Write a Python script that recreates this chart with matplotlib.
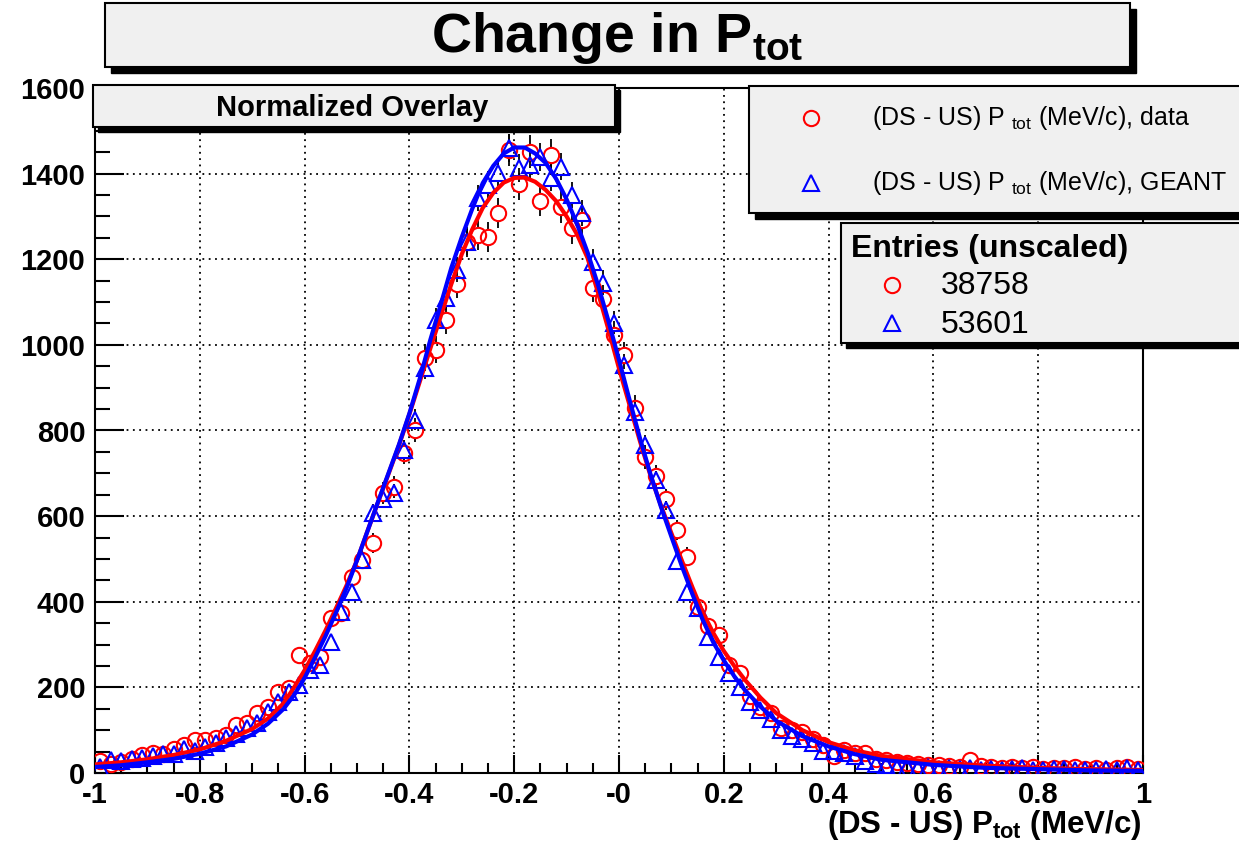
import numpy as np
import matplotlib
matplotlib.use('Agg')
import matplotlib.pyplot as plt
from matplotlib.patches import Rectangle
from matplotlib.lines import Line2D
from matplotlib.ticker import MultipleLocator

plt.rcParams['font.family'] = 'Liberation Sans'
plt.rcParams['mathtext.fontset'] = 'custom'
plt.rcParams['mathtext.rm'] = 'Liberation Sans'
plt.rcParams['mathtext.bf'] = 'Liberation Sans:bold'
plt.rcParams['mathtext.it'] = 'Liberation Sans:italic'

# histogram contents, 100 bins from -1 to 1
data_counts = [28, 22, 26, 33, 42, 47, 45, 56, 65, 77,
               77, 82, 89, 112, 117, 140, 154, 189, 199, 276,
               258, 272, 362, 374, 458, 498, 538, 655, 668, 748,
               802, 970, 989, 1059, 1143, 1240, 1257, 1252, 1308, 1455,
               1375, 1451, 1337, 1444, 1322, 1272, 1292, 1133, 1106, 1023,
               976, 853, 738, 693, 639, 568, 505, 388, 343, 322,
               252, 234, 180, 154, 140, 105, 100, 96, 79, 65,
               40, 54, 47, 46, 32, 30, 26, 24, 22, 19,
               18, 17, 15, 30, 16, 14, 12, 15, 12, 14,
               9, 12, 11, 13, 10, 12, 8, 11, 13, 10]
geant_counts = [14, 30, 28, 32, 36, 40, 44, 45, 55, 52,
                60, 70, 82, 92, 105, 117, 142, 166, 190, 205,
                240, 252, 306, 375, 423, 498, 607, 640, 654, 754,
                825, 946, 1058, 1110, 1175, 1240, 1343, 1374, 1402, 1460,
                1413, 1420, 1439, 1390, 1416, 1350, 1308, 1194, 1145, 1052,
                953, 843, 766, 684, 614, 495, 423, 385, 318, 271,
                234, 200, 166, 148, 126, 100, 86, 80, 70, 52,
                52, 46, 40, 28, 20, 18, 12, 14, 12, 13,
                10, 12, 9, 11, 8, 10, 7, 9, 11, 8,
                6, 9, 10, 7, 8, 6, 9, 7, 11, 8]
n_data = 38758
n_geant = 53601

# fitted curves
fit_x = [-1.0, -0.95, -0.9, -0.85, -0.8, -0.75, -0.7, -0.67, -0.64, -0.62,
         -0.60, -0.58, -0.56, -0.54, -0.52, -0.50, -0.48, -0.46, -0.44, -0.42,
         -0.40, -0.38, -0.36, -0.34, -0.32, -0.30, -0.28, -0.26, -0.24, -0.22,
         -0.20, -0.18, -0.16, -0.14, -0.12, -0.10, -0.08, -0.06, -0.04, -0.02,
         0.0, 0.02, 0.04, 0.06, 0.08, 0.10, 0.12, 0.14, 0.16, 0.18,
         0.20, 0.22, 0.24, 0.27, 0.30, 0.35, 0.40, 0.45, 0.5, 0.6,
         0.7, 0.8, 0.9, 1.0]
fit_data = [20, 25, 32, 42, 55, 75, 103, 127, 163, 200,
            240, 285, 333, 385, 438, 497, 565, 632, 698, 765,
            838, 915, 992, 1068, 1142, 1212, 1270, 1320, 1355, 1379,
            1390, 1391, 1381, 1362, 1336, 1300, 1258, 1203, 1122, 1035,
            945, 860, 775, 695, 625, 560, 496, 434, 375, 327,
            285, 250, 218, 176, 140, 100, 72, 53, 40, 25,
            17, 12, 9, 7]
fit_geant = [14, 18, 25, 33, 45, 62, 90, 115, 150, 182,
             222, 270, 320, 375, 432, 497, 565, 633, 700, 767,
             840, 922, 1012, 1095, 1180, 1252, 1318, 1378, 1418, 1447,
             1461, 1461, 1447, 1425, 1388, 1340, 1282, 1216, 1140, 1055,
             965, 872, 782, 698, 622, 552, 483, 418, 357, 305,
             263, 226, 194, 155, 122, 86, 62, 44, 31, 19,
             12, 9, 6, 5]

xtick_vals = [-1, -0.8, -0.6, -0.4, -0.2, 0, 0.2, 0.4, 0.6, 0.8, 1]
xtick_labels = ['-1', '-0.8', '-0.6', '-0.4', '-0.2', '-0', '0.2', '0.4', '0.6', '0.8', '1']

W, H = 1239, 846
fig = plt.figure(figsize=(W / 100, H / 100), dpi=100)
ax = fig.add_axes([95 / W, 1 - 773 / H, (1143 - 95) / W, (773 - 88) / H])

x = np.linspace(-0.99, 0.99, 100)
yd = np.array(data_counts, float)
yg = np.array(geant_counts, float)
ed = np.sqrt(yd)
eg = np.sqrt(yg * n_data / n_geant)

# error bars with a gap where the marker sits
r = 8 * 1600 / 685.
def errbars(y, e):
    m = e > r
    ax.vlines(x[m], (y + r)[m], (y + e)[m], color='k', lw=1.3, zorder=2)
    ax.vlines(x[m], (y - e)[m], (y - r)[m], color='k', lw=1.3, zorder=2)

errbars(yd, ed)
errbars(yg, eg)
ax.plot(x, yd, 'o', mfc='none', mec='red', ms=11, mew=1.5, zorder=3)
ax.plot(x, yg, '^', mfc='none', mec='blue', ms=12, mew=1.5, zorder=3)
ax.plot(fit_x, fit_data, color='red', lw=3, zorder=4)
ax.plot(fit_x, fit_geant, color='blue', lw=3, zorder=5)

ax.set_xlim(-1, 1)
ax.set_ylim(0, 1600)
ax.set_xticks(xtick_vals)
ax.set_xticklabels(xtick_labels, fontsize=21, fontweight='bold')
ax.set_yticks(range(0, 1601, 200))
ax.set_yticklabels([str(v) for v in range(0, 1601, 200)], fontsize=21, fontweight='bold')
ax.xaxis.set_minor_locator(MultipleLocator(0.05))
ax.yaxis.set_minor_locator(MultipleLocator(50))
ax.tick_params(axis='x', which='major', direction='in', length=13, width=1.5, pad=6)
ax.tick_params(axis='x', which='minor', direction='in', length=7, width=1.5)
ax.tick_params(axis='y', which='major', direction='in', length=21, width=1.5, pad=7)
ax.tick_params(axis='y', which='minor', direction='in', length=11, width=1.5)
ax.grid(True, which='major', color='k', lw=1.3, linestyle=(0, (1, 2.5)))
for s in ax.spines.values():
    s.set_linewidth(1.5)

def fig_box(x0, y0, x1, y1, s):
    fig.add_artist(Rectangle(((x0 + s) / W, 1 - (y1 + s) / H), (x1 - x0) / W, (y1 - y0) / H,
                             transform=fig.transFigure, facecolor='k', edgecolor='k', zorder=10))
    fig.add_artist(Rectangle((x0 / W, 1 - y1 / H), (x1 - x0) / W, (y1 - y0) / H,
                             transform=fig.transFigure, facecolor='#f0f0f0', edgecolor='k',
                             lw=1.5, zorder=11))

def ftext(px, py, s, **kw):
    fig.text(px / W, 1 - py / H, s, zorder=12, **kw)

def fmark(px, py, **kw):
    fig.add_artist(Line2D([px / W], [1 - py / H], transform=fig.transFigure, zorder=12,
                          mfc='none', mew=1.5, ls='none', **kw))

# title
fig_box(105, 3, 1130, 67, 6)
ftext(617, 52, r'Change in P$_{\mathbf{tot}}$', fontsize=40, fontweight='bold', ha='center', va='baseline')

# normalized overlay label
fig_box(93, 85, 615, 127, 5)
ftext(352, 116, 'Normalized Overlay', fontsize=21, fontweight='bold', ha='center', va='baseline')

# legend
fig_box(749, 86, 1260, 213, 6)
fmark(811, 118, marker='o', mec='red', ms=11)
fmark(811, 183, marker='^', mec='blue', ms=12)
ftext(872, 125, r'(DS - US) P $_{\mathrm{tot}}$ (MeV/c), data', fontsize=18, va='baseline')
ftext(872, 190, r'(DS - US) P $_{\mathrm{tot}}$ (MeV/c), GEANT', fontsize=18, va='baseline')

# entries box
fig_box(841, 223, 1260, 343, 5)
ftext(851, 257, 'Entries (unscaled)', fontsize=23, fontweight='bold', va='baseline')
fmark(892, 285, marker='o', mec='red', ms=11)
fmark(892, 323, marker='^', mec='blue', ms=12)
ftext(941, 294, f'{n_data}', fontsize=23, va='baseline')
ftext(941, 333, f'{n_geant}', fontsize=23, va='baseline')

# x axis title
ftext(1141, 833, r'(DS - US) P$_{\mathbf{tot}}$ (MeV/c)', fontsize=22.5, fontweight='bold',
      ha='right', va='baseline')

plt.savefig('out.png', dpi=100)
plt.close()
